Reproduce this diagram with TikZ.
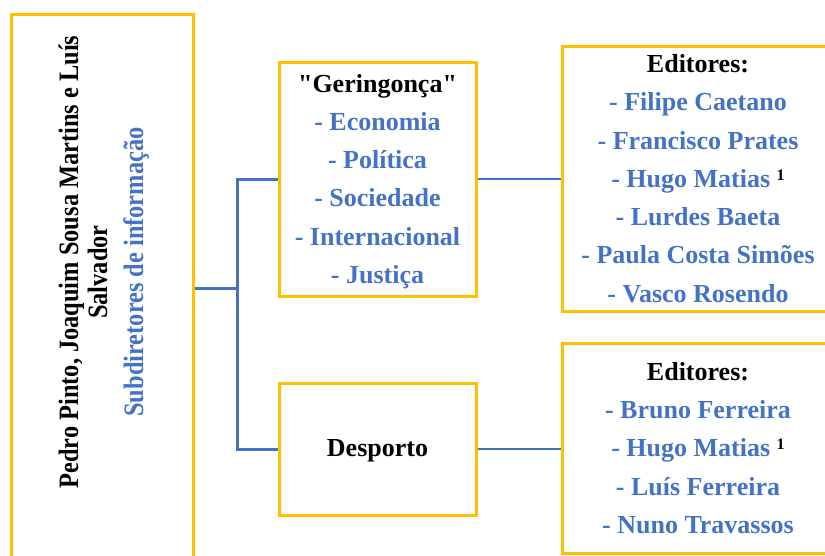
\documentclass[tikz,border=0pt]{standalone}
\usepackage{fontspec}
\setmainfont{Liberation Serif}
\newfontfamily\plainserif{Liberation Serif}
\usepackage{graphicx}
\definecolor{gold}{HTML}{FFC000}
\definecolor{wblue}{HTML}{4472C4}
\newcommand{\supone}{\raisebox{7pt}{\color{black}\fontsize{16}{16}\selectfont 1}}
\newcommand{\dq}{{\plainserif\bfseries "}}
\begin{document}
\begin{tikzpicture}[x=1pt,y=-1pt,
  box/.style={draw=gold, line width=3pt, inner sep=0pt, rectangle},
  tree/.style={draw=wblue, line width=3pt},
  link/.style={draw=wblue, line width=1.4pt},
  txt/.style={font=\bfseries\fontsize{26}{38.3}\selectfont, align=center, inner sep=0pt},
  rot/.style={rotate=90, anchor=base, inner sep=0pt, font=\bfseries\fontsize{24.4}{24}\selectfont}]
\useasboundingbox (0,0) rectangle (825,555);
\clip (0,0) rectangle (825,555);

% boxes
\node[box, minimum width=181.5pt, minimum height=548pt] (L) at (102.25,288) {};
\node[box, minimum width=197pt, minimum height=234pt] (G) at (377.5,179) {};
\node[box, minimum width=272pt, minimum height=265pt] (E1) at (698,178.5) {};
\node[box, minimum width=197pt, minimum height=132pt] (D) at (377.5,449) {};
\node[box, minimum width=272pt, minimum height=210pt] (E2) at (698,448) {};

% texts
\node[txt] (Gt) at ([yshift=-2.5pt]G.center)
  {\dq Geringonça\dq\\
   \textcolor{wblue}{- Economia}\\
   \textcolor{wblue}{- Política}\\
   \textcolor{wblue}{- Sociedade}\\
   \textcolor{wblue}{- Internacional}\\
   \textcolor{wblue}{- Justiça}};
\node[txt] (E1t) at (E1.center)
  {Editores:\\
   \textcolor{wblue}{- Filipe Caetano}\\
   \textcolor{wblue}{- Francisco Prates}\\
   \textcolor{wblue}{- Hugo Matias \supone}\\
   \textcolor{wblue}{- Lurdes Baeta}\\
   \textcolor{wblue}{- Paula Costa Simões}\\
   \textcolor{wblue}{- Vasco Rosendo}};
\node[txt] (Dt) at ([yshift=-1.5pt]D.center) {Desporto};
\node[txt] (E2t) at (E2.center)
  {Editores:\\
   \textcolor{wblue}{- Bruno Ferreira}\\
   \textcolor{wblue}{- Hugo Matias \supone}\\
   \textcolor{wblue}{- Luís Ferreira}\\
   \textcolor{wblue}{- Nuno Travassos}};

% rotated texts in the left box
\node[rot] (n1) at (78,262) {\scalebox{1}[1.15]{Pedro Pinto, Joaquim Sousa Martins e Luís}};
\node[rot] (n2) at (107,272) {\scalebox{1}[1.15]{Salvador}};
\node[rot, text=wblue] (n3) at (143,272) {\scalebox{1}[1.15]{Subdiretores de informação}};

% connectors
\coordinate (j) at (237,288);
\draw[tree] (L.east) -- (j);
\draw[tree] (G.west) -| (j);
\draw[tree] (D.west) -| (j);
\draw[link] (G.east) -- (G.east -| E1.west);
\draw[link] (D.east) -- (D.east -| E2.west);
\end{tikzpicture}
\end{document}
